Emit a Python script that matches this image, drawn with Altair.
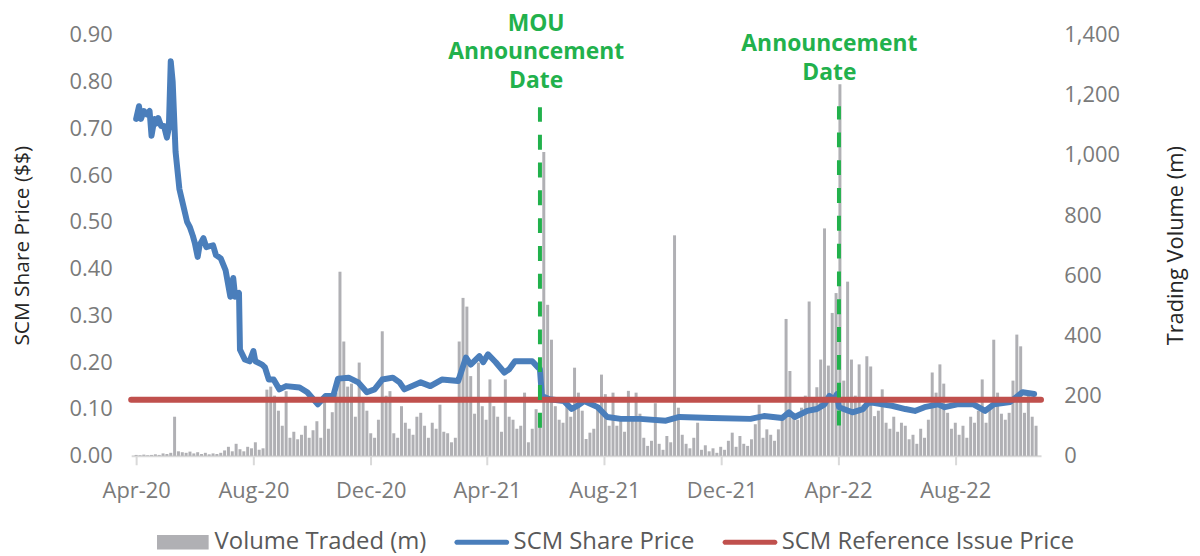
import altair as alt
import pandas as pd

# ---------------- data ----------------
price_dates = [
    "2020-04-01", "2020-04-04", "2020-04-06", "2020-04-09", "2020-04-12", "2020-04-15", "2020-04-17",
    "2020-04-20", "2020-04-22", "2020-04-24", "2020-04-27", "2020-04-30", "2020-05-03", "2020-05-05",
    "2020-05-07", "2020-05-09", "2020-05-12", "2020-05-16", "2020-05-20", "2020-05-24", "2020-05-27",
    "2020-05-30", "2020-06-01", "2020-06-04", "2020-06-06", "2020-06-10", "2020-06-13", "2020-06-20",
    "2020-06-23", "2020-06-28", "2020-07-03", "2020-07-08", "2020-07-11", "2020-07-13", "2020-07-17",
    "2020-07-18", "2020-07-23", "2020-07-28", "2020-08-01", "2020-08-03", "2020-08-10", "2020-08-13",
    "2020-08-17", "2020-08-22", "2020-08-28", "2020-09-04", "2020-09-18", "2020-09-26", "2020-10-07",
    "2020-10-15", "2020-10-23", "2020-10-28", "2020-11-08", "2020-11-18", "2020-11-27", "2020-12-05",
    "2020-12-13", "2020-12-24", "2020-12-31", "2021-01-05", "2021-01-22", "2021-02-01", "2021-02-13",
    "2021-03-02", "2021-03-10", "2021-03-15", "2021-03-24", "2021-03-28", "2021-04-02", "2021-04-10",
    "2021-04-19", "2021-04-24", "2021-04-30", "2021-05-18", "2021-05-24", "2021-05-26", "2021-05-28",
    "2021-06-05", "2021-06-20", "2021-06-28", "2021-07-04", "2021-07-11", "2021-07-25", "2021-08-04",
    "2021-08-18", "2021-09-07", "2021-10-04", "2021-10-18", "2021-11-21", "2021-12-31", "2022-01-14",
    "2022-02-02", "2022-02-09", "2022-02-15", "2022-02-28", "2022-03-10", "2022-03-18", "2022-03-23",
    "2022-03-28", "2022-03-31", "2022-04-02", "2022-04-16", "2022-04-27", "2022-05-03", "2022-05-17",
    "2022-05-27", "2022-06-10", "2022-06-20", "2022-06-30", "2022-07-14", "2022-07-21", "2022-08-03",
    "2022-08-20", "2022-09-01", "2022-09-10", "2022-09-27", "2022-10-10", "2022-10-22",
]
price_values = [
    0.720, 0.747, 0.720, 0.737, 0.730, 0.737, 0.684,
    0.720, 0.710, 0.722, 0.705, 0.705, 0.680, 0.700,
    0.843, 0.800, 0.650, 0.570, 0.535, 0.500, 0.488,
    0.470, 0.455, 0.425, 0.450, 0.465, 0.446, 0.450,
    0.429, 0.422, 0.397, 0.340, 0.380, 0.340, 0.348,
    0.227, 0.206, 0.202, 0.224, 0.202, 0.195, 0.189,
    0.163, 0.163, 0.142, 0.149, 0.146, 0.136, 0.110,
    0.128, 0.128, 0.165, 0.167, 0.157, 0.136, 0.142,
    0.163, 0.167, 0.157, 0.142, 0.157, 0.149, 0.163,
    0.160, 0.210, 0.195, 0.213, 0.200, 0.217, 0.200,
    0.178, 0.185, 0.202, 0.202, 0.189, 0.185, 0.128,
    0.121, 0.117, 0.100, 0.107, 0.117, 0.104, 0.083,
    0.079, 0.079, 0.075, 0.083, 0.081, 0.079, 0.085,
    0.081, 0.093, 0.083, 0.096, 0.100, 0.110, 0.128,
    0.121, 0.132, 0.104, 0.093, 0.100, 0.115, 0.110,
    0.107, 0.100, 0.096, 0.104, 0.110, 0.104, 0.110,
    0.110, 0.096, 0.110, 0.115, 0.136, 0.132,
]
assert len(price_dates) == len(price_values)

volume_start = "2020-04-01"
volume_step = "4D"
volume_values = [
    3, 2, 4, 2, 3, 5, 3, 8, 6, 10,
    130, 15, 12, 10, 14, 8, 12, 6, 10, 5,
    8, 6, 10, 18, 30, 15, 40, 22, 15, 30,
    25, 45, 20, 25, 220, 230, 200, 150, 100, 215,
    60, 80, 55, 70, 100, 60, 85, 115, 60, 180,
    90, 145, 210, 612, 380, 230, 240, 130, 310, 190,
    150, 75, 60, 120, 414, 200, 215, 75, 60, 165,
    110, 90, 70, 130, 143, 100, 60, 110, 90, 170,
    80, 75, 45, 60, 380, 525, 496, 265, 140, 310,
    165, 120, 254, 165, 130, 80, 254, 130, 120, 90,
    100, 210, 45, 90, 155, 130, 1010, 502, 386, 165,
    120, 110, 165, 130, 293, 210, 150, 56, 77, 90,
    160, 270, 205, 100, 210, 100, 130, 80, 216, 120,
    210, 140, 60, 33, 50, 175, 40, 20, 66, 45,
    733, 160, 70, 40, 25, 60, 110, 20, 35, 15,
    25, 10, 30, 20, 50, 77, 30, 66, 40, 33,
    55, 105, 170, 60, 88, 70, 50, 88, 120, 455,
    282, 143, 120, 160, 200, 513, 180, 228, 320, 756,
    300, 475, 541, 1235, 250, 579, 320, 200, 304, 170,
    331, 297, 132, 150, 221, 110, 90, 130, 80, 110,
    100, 55, 70, 40, 90, 60, 120, 277, 210, 304,
    240, 143, 90, 110, 70, 100, 60, 130, 110, 150,
    254, 110, 160, 386, 210, 140, 120, 143, 250, 403,
    364, 143, 200, 130, 100,
]

ref_price = [0.12]

event_dates = ["2021-05-26", "2022-04-02"]
event_label_dates = ["2021-05-22", "2022-03-23"]
event_labels = ["MOU\nAnnouncement\nDate", "Announcement\nDate"]
event_label_y = [0.947, 0.903]
event_low = [0.06, 0.065]
event_high = [0.745, 0.747]

series_names = ["Volume Traded (m)", "SCM Share Price", "SCM Reference Issue Price"]
series_colors = ["#B0B0B4", "#4A7EBB", "#C0504D"]
series_shapes = [
    "M-1,-0.28H1V0.28H-1Z",
    "M-0.96,-0.1H0.96A0.1,0.1 0 0 1 0.96,0.1H-0.96A0.1,0.1 0 0 1 -0.96,-0.1Z",
    "M-0.96,-0.1H0.96A0.1,0.1 0 0 1 0.96,0.1H-0.96A0.1,0.1 0 0 1 -0.96,-0.1Z",
]

price_ticks = [0.0, 0.1, 0.2, 0.3, 0.4, 0.5, 0.6, 0.7, 0.8, 0.9]
volume_ticks = [0, 200, 400, 600, 800, 1000, 1200, 1400]
x_ticks = [(2020, 4), (2020, 8), (2020, 12), (2021, 4), (2021, 8), (2021, 12), (2022, 4), (2022, 8)]

# ---------------- frames ----------------
price_df = pd.DataFrame({"date": pd.to_datetime(price_dates), "price": price_values})
vol_df = pd.DataFrame({
    "date": pd.date_range(volume_start, periods=len(volume_values), freq=volume_step),
    "volume": volume_values,
})
ref_df = pd.DataFrame({"ref": ref_price})
event_df = pd.DataFrame({
    "date": pd.to_datetime(event_dates),
    "label_date": pd.to_datetime(event_label_dates),
    "label": event_labels,
    "label_y": event_label_y,
    "low": event_low,
    "high": event_high,
})
legend_df = pd.DataFrame({"series": series_names})

GREY = "#7a7a7a"
GREEN = "#22B14C"
FONT = "Open Sans"

x_scale = alt.Scale(domain=[alt.DateTime(year=2020, month=4, date=1),
                            alt.DateTime(year=2022, month=10, date=24)])
x_axis = alt.Axis(
    values=[alt.DateTime(year=y, month=m, date=1) for y, m in x_ticks],
    format="%b-%y", title=None, grid=False,
    domainColor="#D9D9D9", domainWidth=2, tickColor="#D9D9D9", tickWidth=2, tickSize=9,
    labelPadding=16, labelFontSize=22, labelColor=GREY, labelFont=FONT, labelFlush=False,
)
X = alt.X("date:T", scale=x_scale, axis=x_axis)


def price_scale():
    return alt.Scale(domain=[0, 0.9], nice=False, zero=False)


bars = alt.Chart(vol_df).mark_bar(size=3, color=series_colors[0]).encode(
    x=X,
    y=alt.Y("volume:Q", scale=alt.Scale(domain=[0, 1400], nice=False, zero=False),
            axis=alt.Axis(orient="right", values=volume_ticks, format=",.0f", title="Trading Volume (m)",
                          domain=False, ticks=False, grid=False, labelPadding=23, labelFontSize=22,
                          labelColor=GREY, labelFont=FONT, titleFont=FONT, titleFontSize=22,
                          titleFontWeight="normal", titleColor="#262626", titleAngle=270,
                          titlePadding=68)),
)

price_line = alt.Chart(price_df).mark_line(
    color=series_colors[1], strokeWidth=6, strokeJoin="round", strokeCap="round"
).encode(
    x=X,
    y=alt.Y("price:Q", scale=price_scale(),
            axis=alt.Axis(orient="left", values=price_ticks, format=".2f", title="SCM Share Price ($$)",
                          domain=False, ticks=False, grid=False, labelPadding=19, labelFontSize=22,
                          labelColor=GREY, labelFont=FONT, titleFont=FONT, titleFontSize=21,
                          titleFontWeight="normal", titleColor="#262626", titlePadding=37)),
)

ref_rule = alt.Chart(ref_df).mark_rule(
    color=series_colors[2], strokeWidth=6, strokeCap="round"
).encode(y=alt.Y("ref:Q", scale=price_scale(), axis=None))

event_rules = alt.Chart(event_df).mark_rule(
    color=GREEN, strokeWidth=4, strokeDash=[15, 13]
).encode(
    x=X,
    y=alt.Y("low:Q", scale=price_scale(), axis=None),
    y2="high:Q",
)

event_text = alt.Chart(event_df).mark_text(
    lineBreak="\n", font=FONT, fontSize=23, fontWeight="bold", color=GREEN,
    align="center", baseline="top", lineHeight=29,
).encode(
    x=alt.X("label_date:T", scale=x_scale, axis=x_axis),
    y=alt.Y("label_y:Q", scale=price_scale(), axis=None),
    text="label:N",
)

legend_def = alt.Legend(
    title=None, orient="none", legendX=26, legendY=485, direction="horizontal",
    symbolSize=2704, symbolStrokeWidth=0, symbolOpacity=1, labelFontSize=24, labelFont=FONT,
    labelColor="#595959", labelLimit=500, columnPadding=27, labelOffset=6,
)
legend_helper = alt.Chart(legend_df).mark_point(filled=True, clip=True, size=100, opacity=1).encode(
    x=alt.value(-200), y=alt.value(-200),
    color=alt.Color("series:N", scale=alt.Scale(domain=series_names, range=series_colors), legend=legend_def),
    shape=alt.Shape("series:N", scale=alt.Scale(domain=series_names, range=series_shapes), legend=legend_def),
)

chart = alt.layer(
    bars, price_line, ref_rule, event_rules, event_text, legend_helper
).resolve_scale(y="independent").properties(
    width=916, height=424,
    padding={"left": 124, "top": 25, "right": 152, "bottom": 99},
    autosize=alt.AutoSizeParams(type="none"),
).configure_view(stroke=None)

chart.save("out.html", embed_options={"renderer": "svg", "actions": False})
